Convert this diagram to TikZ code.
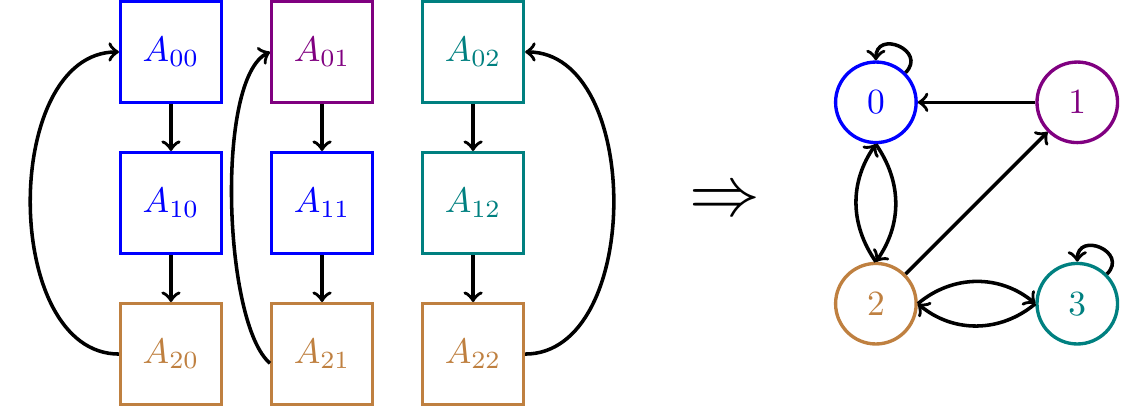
\documentclass[tikz,border=0pt]{standalone}
\definecolor{cpurple}{RGB}{128,0,128}
\definecolor{cteal}{RGB}{0,128,128}
\definecolor{cbrown}{RGB}{191,128,64}
\begin{document}
\begin{tikzpicture}[
  box/.style={draw, line width=0.95pt, minimum size=1cm, inner sep=0pt},
  st/.style={draw, line width=0.95pt, circle, minimum size=0.8cm, inner sep=0pt},
  arr/.style={->, line width=1pt, black},
]
\useasboundingbox (-1.698,0.516) rectangle (9.494,-3.518);
% boxes
\node[box, blue]    (A00) at (0,0)     {$A_{00}$};
\node[box, cpurple] (A01) at (1.5,0)   {$A_{01}$};
\node[box, cteal]   (A02) at (3,0)     {$A_{02}$};
\node[box, blue]    (A10) at (0,-1.5)  {$A_{10}$};
\node[box, blue]    (A11) at (1.5,-1.5){$A_{11}$};
\node[box, cteal]   (A12) at (3,-1.5)  {$A_{12}$};
\node[box, cbrown]  (A20) at (0,-3)    {$A_{20}$};
\node[box, cbrown]  (A21) at (1.5,-3)  {$A_{21}$};
\node[box, cbrown]  (A22) at (3,-3)    {$A_{22}$};
% vertical arrows
\draw[arr] (A00) -- (A10);
\draw[arr] (A10) -- (A20);
\draw[arr] (A01) -- (A11);
\draw[arr] (A11) -- (A21);
\draw[arr] (A02) -- (A12);
\draw[arr] (A12) -- (A22);
% wrap-around arrows
\draw[arr] (A20.west) to[out=180,in=180] (A00.west);
\draw[arr] (A21.190) to[out=140,in=205,looseness=0.5] (A01.west);
\draw[arr] (A22.east) to[out=0,in=0] (A02.east);
% implies
\node[scale=2] (imp) at (5.5,-1.5) {$\Rightarrow$};
% graph
\node[st, blue]    (n0) at (7,-0.5) {$0$};
\node[st, cpurple] (n1) at (9,-0.5) {$1$};
\node[st, cbrown]  (n2) at (7,-2.5) {$2$};
\node[st, cteal]   (n3) at (9,-2.5) {$3$};
\draw[arr] (n1) -- (n0);
\draw[arr] (n2) -- (n1);
\draw[arr] (n0.south) to[bend left=35] (n2.north);
\draw[arr] (n2.north) to[bend left=35] (n0.south);
\draw[arr] (n2.east) to[bend left=40] (n3.west);
\draw[arr] (n3.west) to[bend left=40] (n2.east);
\draw[arr] (n0.45) .. controls +(45:0.31) and +(90:0.31) .. (n0.90);
\draw[arr] (n3.45) .. controls +(45:0.31) and +(90:0.31) .. (n3.90);
\end{tikzpicture}
\end{document}
